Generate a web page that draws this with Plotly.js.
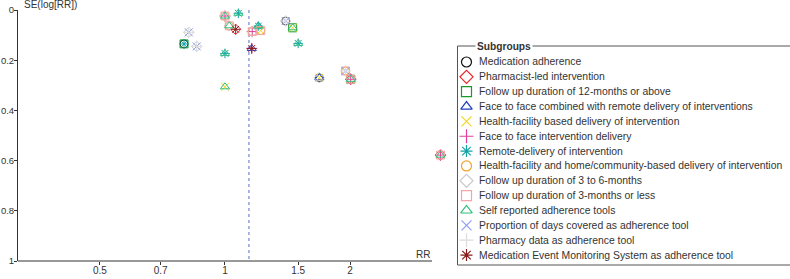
<!DOCTYPE html>
<html>
<head>
<meta charset="utf-8">
<script src="https://cdn.plot.ly/plotly-3.0.1.min.js"></script>
<style>html,body{margin:0;padding:0;background:#fff;}#chart{width:790px;height:279px;}</style>
</head>
<body>
<div id="chart"></div>
<script>
// Study estimates (risk ratio and its standard error of log RR)
const studyRR = [0.818, 0.797, 0.855, 1.00, 1.077, 1.024, 1.061, 1.00, 1.00, 1.16,
                 1.163, 1.203, 1.219, 1.40, 1.455, 1.50, 1.687, 1.95, 2.007, 3.30];
const studySE = [0.089, 0.135, 0.145, 0.024, 0.013, 0.063, 0.077, 0.173, 0.306, 0.153,
                 0.086, 0.064, 0.082, 0.044, 0.071, 0.133, 0.270, 0.243, 0.276, 0.578];
const pooledRR = 1.142;

const groupNames = [
  'Medication adherence',
  'Pharmacist-led intervention',
  'Follow up duration of 12-months or above',
  'Face to face combined with remote delivery of interventions',
  'Health-facility based delivery of intervention',
  'Face to face intervention delivery',
  'Remote-delivery of intervention',
  'Health-facility and home/community-based delivery of intervention',
  'Follow up duration of 3 to 6-months',
  'Follow up duration of 3-months or less',
  'Self reported adherence tools',
  'Proportion of days covered as adherence tool',
  'Pharmacy data as adherence tool',
  'Medication Event Monitoring System as adherence tool'
];
// indices of studies belonging to each subgroup
const groupMembers = [
  [1, 13, 16],
  [6, 18, 19],
  [1, 14, 18],
  [9, 11, 16],
  [8, 12, 14, 16],
  [3, 9, 10, 18, 19],
  [1, 4, 7, 11, 15],
  [3, 5, 10, 12, 17],
  [0, 2, 3, 5, 10, 13, 16],
  [3, 5, 10, 12, 17, 18, 19],
  [3, 4, 5, 7, 8, 11, 14, 15, 18, 19],
  [0, 2, 13, 17],
  [0, 2, 13, 17],
  [6, 9]
];
const groupSymbols = ['circle-open', 'diamond-open', 'square-open', 'triangle-up-open',
  'x-thin-open', 'cross-thin-open', 'asterisk-open', 'circle-open', 'diamond-open',
  'square-open', 'triangle-up-open', 'x-thin-open', 'cross-thin-open', 'asterisk-open'];
const groupColors = ['#111111', '#e8262a', '#1a9a2a', '#1f3fbf', '#f5d31a', '#e0409a',
  '#12a3a8', '#f0a030', '#cccccc', '#f4a5a5', '#2fc07a', '#8c9cf0', '#dcdcdc', '#8b1a1a'];

const xTickVals = [0.5, 0.7, 1, 1.5, 2];
const xTickText = ['0.5', '0.7', '1', '1.5', '2'];
const yTickVals = [0, 0.2, 0.4, 0.6, 0.8, 1];
const yTickText = ['0', '0.2', '0.4', '0.6', '0.8', '1'];

const W = 790, H = 279;
const px = v => v / W;
const py = v => 1 - v / H;

const traces = [];
// pooled estimate line
traces.push({
  x: [pooledRR, pooledRR], y: [0, 1], mode: 'lines', xaxis: 'x', yaxis: 'y',
  line: {color: '#5a6fc4', width: 1, dash: '3px,3px'}, hoverinfo: 'skip', showlegend: false
});
groupNames.forEach((name, g) => {
  traces.push({
    x: groupMembers[g].map(i => studyRR[i]),
    y: groupMembers[g].map(i => studySE[i]),
    mode: 'markers', name: name, xaxis: 'x', yaxis: 'y',
    cliponaxis: false, showlegend: false,
    marker: {symbol: groupSymbols[g], color: groupColors[g], size: 8,
             line: {color: groupColors[g], width: 1}}
  });
});
// legend keys drawn on their own axis
groupNames.forEach((name, g) => {
  traces.push({
    x: [8.5], y: [g], mode: 'markers', xaxis: 'x2', yaxis: 'y2',
    cliponaxis: false, showlegend: false, hoverinfo: 'skip',
    marker: {symbol: groupSymbols[g], color: groupColors[g], size: 10,
             line: {color: groupColors[g], width: 1.2}}
  });
});

const annotations = groupNames.map((name, g) => ({
  xref: 'x2', yref: 'y2', x: 19, y: g, text: name, showarrow: false,
  xanchor: 'left', yanchor: 'middle', font: {size: 10.4, color: '#333'}
}));
annotations.push({
  xref: 'paper', yref: 'paper', x: px(475), y: py(46), text: '<b>Subgroups</b>',
  showarrow: false, xanchor: 'left', yanchor: 'middle', bgcolor: '#fff', borderpad: 1,
  font: {size: 10.2, color: '#333'}
});
annotations.push({
  xref: 'paper', yref: 'paper', x: px(22), y: py(5), text: 'SE(log[RR])',
  showarrow: false, xanchor: 'left', yanchor: 'middle', font: {size: 10, color: '#333'}
});
annotations.push({
  xref: 'paper', yref: 'paper', x: px(432), y: py(254), text: 'RR',
  showarrow: false, xanchor: 'right', yanchor: 'middle', font: {size: 10, color: '#333'}
});

const borderLine = {color: '#555', width: 1};
const shapes = [
  // x axis line (stops before the plotting area's right extension)
  {type: 'line', xref: 'paper', yref: 'paper', x0: px(18), x1: px(432), y0: py(261), y1: py(261), line: {color: '#333', width: 1}},
  {type: 'line', xref: 'paper', yref: 'paper', x0: px(457.5), x1: px(457.5), y0: py(46), y1: py(265), line: borderLine},
  {type: 'line', xref: 'paper', yref: 'paper', x0: px(457.5), x1: 1, y0: py(46), y1: py(46), line: borderLine},
  {type: 'line', xref: 'paper', yref: 'paper', x0: px(457.5), x1: 1, y0: py(265), y1: py(265), line: borderLine}
];

const layout = {
  width: W, height: H, margin: {l: 0, r: 0, t: 0, b: 0},
  paper_bgcolor: '#fff', plot_bgcolor: 'rgba(0,0,0,0)', showlegend: false,
  font: {family: 'Liberation Sans, Arial, sans-serif', size: 10, color: '#333'},
  xaxis: {
    type: 'log', domain: [px(18), px(460)], range: [-0.498, 0.5655], anchor: 'y',
    tickvals: xTickVals, ticktext: xTickText, showline: false,
    ticks: 'outside', ticklen: 3, tickcolor: '#333', showgrid: false, zeroline: false,
    ticklabelstandoff: -3,
    tickfont: {size: 10, color: '#333'}
  },
  yaxis: {
    domain: [py(261), py(10)], range: [1, 0], anchor: 'x',
    tickvals: yTickVals, ticktext: yTickText, showline: true, linecolor: '#333', linewidth: 1,
    ticks: 'outside', ticklen: 3, tickcolor: '#333', showgrid: false, zeroline: false,
    ticklabelstandoff: -2,
    tickfont: {size: 9.5, color: '#333'}
  },
  xaxis2: {domain: [px(458), 1], range: [0, 332], anchor: 'y2', visible: false, fixedrange: true},
  yaxis2: {domain: [py(264), py(46)], range: [13.603, -1.077], anchor: 'x2', visible: false, fixedrange: true},
  annotations: annotations,
  shapes: shapes
};

Plotly.newPlot('chart', traces, layout, {staticPlot: true, displayModeBar: false});
</script>
</body>
</html>
